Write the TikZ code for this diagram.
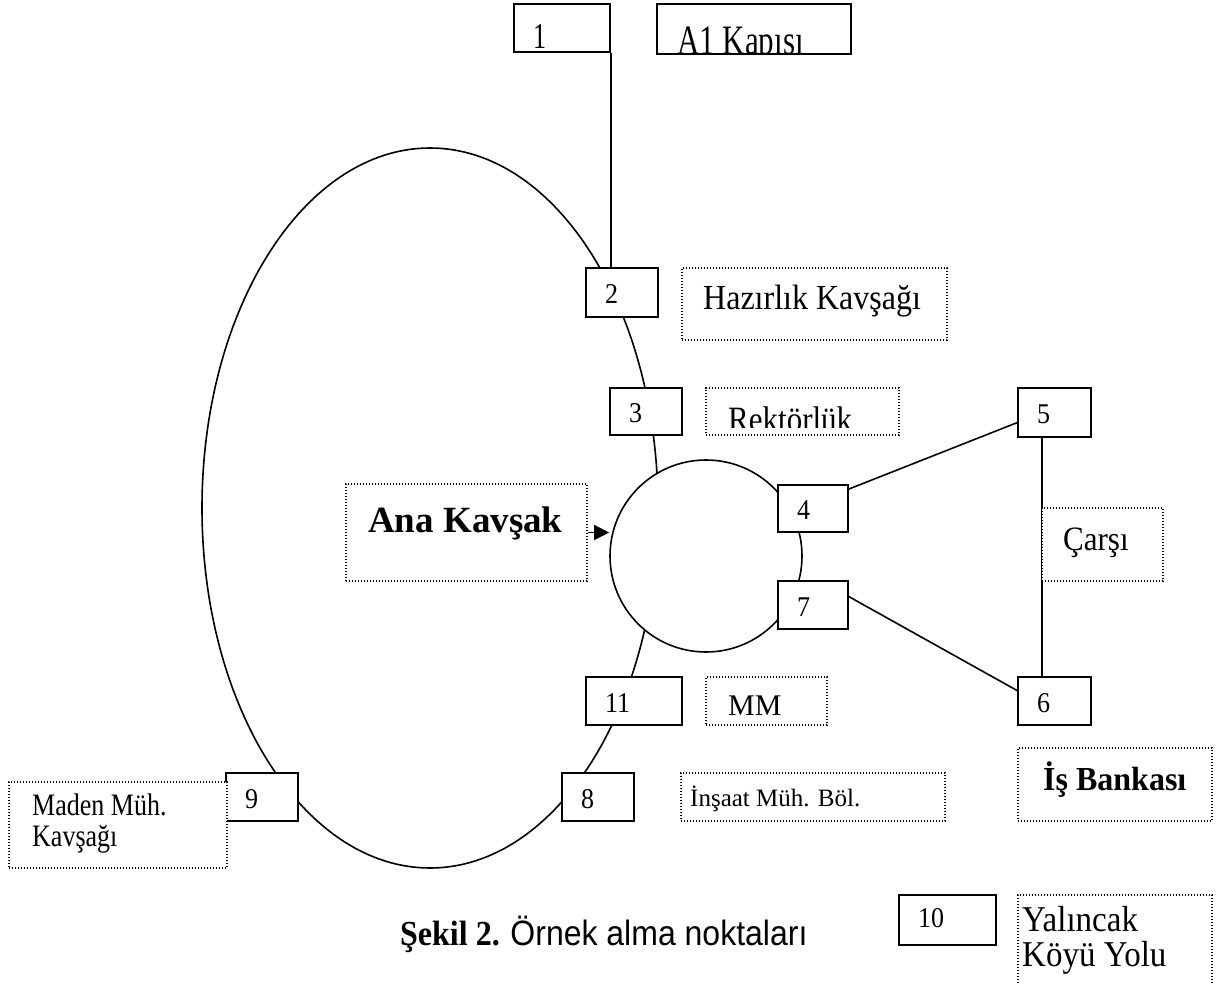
\documentclass[tikz,border=0pt]{standalone}
\usepackage{fontspec}
\setmainfont{Liberation Serif}
\newfontfamily\arialfont{Liberation Sans}
\usetikzlibrary{arrows.meta,calc}
\newcommand{\fs}[1]{\fontsize{#1}{#1}\selectfont}
\newcommand{\vs}[2]{\scalebox{1}[#1]{#2}}
\begin{document}
\begin{tikzpicture}[x=1pt,y=-1pt,
  numbox/.style={draw, fill=white, line width=1.6pt, inner xsep=19pt, inner ysep=0pt,
    align=left, font=\fs{26}, text height=22pt, text depth=0pt},
  dotbox/.style={draw, fill=white, line width=1.4pt, dash pattern=on 1.4pt off 1.6pt, inner sep=0pt},
  road/.style={line width=1.6pt},
  lbl/.style={anchor=base west, inner sep=0pt},
]
\useasboundingbox (0,0) rectangle (1216,985);
\fill[white] (0,0) rectangle (1216,985);

% big loop road
\draw[road] (430,508) ellipse [x radius=228pt, y radius=360pt];
% roundabout
\node[draw, circle, fill=white, line width=1.6pt, minimum size=192pt, inner sep=0pt] (circ) at (706,556) {};

% numbered boxes
\node[numbox, minimum width=96pt, minimum height=48pt, text width=58pt, text height=40pt] (b1) at (562,28) {\vs{1.4}{1}};
\node[numbox, minimum width=72pt, minimum height=49pt, text width=34pt] (b2) at (622,292.5) {\vs{1.1}{2}};
\node[numbox, minimum width=72pt, minimum height=47pt, text width=34pt] (b3) at (646,411.5) {\vs{1.1}{3}};
\node[numbox, minimum width=70pt, minimum height=47pt, text width=32pt] (b4) at (813,508.5) {\vs{1.1}{4}};
\node[numbox, minimum width=73pt, minimum height=49pt, text width=35pt] (b5) at (1054.5,412.5) {\vs{1.1}{5}};
\node[numbox, minimum width=73pt, minimum height=48pt, text width=35pt] (b6) at (1054.5,701) {\vs{1.1}{6}};
\node[numbox, minimum width=70pt, minimum height=48pt, text width=32pt] (b7) at (813,605) {\vs{1.1}{7}};
\node[numbox, minimum width=72pt, minimum height=48pt, text width=34pt] (b8) at (598,797) {\vs{1.1}{8}};
\node[numbox, minimum width=72pt, minimum height=48pt, text width=34pt] (b9) at (262,797) {\vs{1.1}{9}};
\node[numbox, minimum width=97pt, minimum height=50pt, text width=59pt, text height=14pt] (b10) at (947.5,920) {\vs{1.1}{10}};
\node[numbox, minimum width=96pt, minimum height=48pt, text width=58pt] (b11) at (634,701) {\vs{1.1}{11}};

% connectors
\draw[road] (b1.south east) -- (b1.south east |- b2.north);
\draw[road] ($(b4.north east)!0.1!(b4.south east)$) -- ($(b5.north west)!0.7!(b5.south west)$);
\draw[road] ($(b7.north east)!0.33!(b7.south east)$) -- ($(b6.north west)!0.29!(b6.south west)$);
\draw[road] (1042,437) coordinate (c5) -- (1042,677) coordinate (c6);

% label boxes
\node[draw, line width=1.6pt, minimum width=194pt, minimum height=50pt, inner sep=0pt] (a1) at (754,29) {};
\node[dotbox, minimum width=265pt, minimum height=72pt] (hz) at (814.5,304) {};
\node[dotbox, minimum width=193pt, minimum height=47pt] (rk) at (802.5,411.5) {};
\node[dotbox, minimum width=241pt, minimum height=97pt] (ak) at (466.5,532.5) {};
\node[dotbox, minimum width=121pt, minimum height=73pt] (cs) at (1102.5,544.5) {};
\node[dotbox, minimum width=194pt, minimum height=73pt] (ib) at (1115,784.5) {};
\node[dotbox, minimum width=121pt, minimum height=48pt] (mm) at (766.5,701) {};
\node[dotbox, minimum width=218pt, minimum height=86pt] (md) at (118,825) {};
\node[dotbox, minimum width=264pt, minimum height=48pt] (in) at (813,797) {};
\node[dotbox, minimum width=194pt, minimum height=110pt] (yk) at (1115,950) {};

% label texts
\begin{scope}
  \clip (657,4) rectangle (851,53.2);
  \node[lbl, font=\fs{31}] (a1t) at (677,54) {\vs{1.35}{A1 Kapısı}};
\end{scope}
\node[lbl, font=\fs{32}] (hzt) at (703,309) {\vs{1.1}{Hazırlık Kavşağı}};
\begin{scope}
  \clip (706,388) rectangle (899,427);
  \node[lbl, font=\fs{31}] (rkt) at (728,431) {\vs{1.15}{Rektörlük}};
\end{scope}
\node[lbl, font=\bfseries\fs{37}] (akt) at (368,532) {Ana Kavşak};
\node[lbl, font=\fs{31}] (cst) at (1063,550) {\vs{1.1}{Çarşı}};
\node[lbl, font=\bfseries\fs{32}] (ibt) at (1043,790) {\vs{1.05}{İş Bankası}};
\node[lbl, font=\fs{30}] (mmt) at (728,715) {MM};
\node[lbl, font=\fs{26}] (mdt1) at (32,815) {\vs{1.2}{Maden Müh.}};
\node[lbl, font=\fs{26}] (mdt2) at (32,846) {\vs{1.2}{Kavşağı}};
\node[lbl, font=\fs{25}] (int) at (690,806) {İnşaat Müh. Böl.};
\node[lbl, font=\fs{33}] (ykt1) at (1022,931) {\vs{1.1}{Yalıncak}};
\node[lbl, font=\fs{33}] (ykt2) at (1022,966) {\vs{1.1}{Köyü Yolu}};

% arrow into roundabout
\draw[line width=1.4pt, -{Triangle[length=15pt,width=15pt]}] (ak.east) -- (ak.east -| circ.west);

% caption
\node[lbl, font=\fs{32}] (cap) at (400,945) {\vs{1.1}{\textbf{Şekil 2.} {\arialfont Örnek alma noktaları}}};
\end{tikzpicture}
\end{document}
